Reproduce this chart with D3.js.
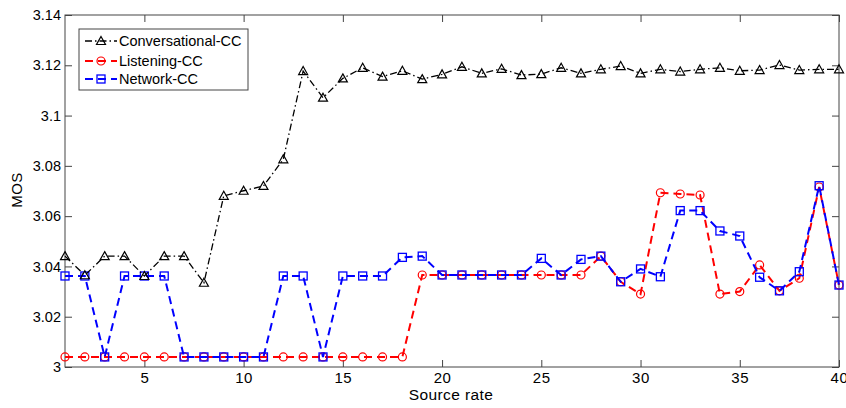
<!DOCTYPE html>
<html><head><meta charset="utf-8">
<script src="https://cdn.jsdelivr.net/npm/d3@7"></script>
<style>body{margin:0;background:#fff}svg{display:block}text{font-family:"Liberation Sans",Arial,sans-serif}</style>
</head><body><svg id="c" width="846" height="408"></svg>
<script>
const xs = d3.range(1, 41);
const conversational = [3.0441,3.0365,3.0441,3.0441,3.0362,3.0441,3.0441,3.0335,3.0681,3.0701,
  3.0720,3.0826,3.1177,3.1071,3.1148,3.1190,3.1155,3.1178,3.1145,3.1164,
  3.1194,3.1168,3.1186,3.1161,3.1165,3.1190,3.1168,3.1184,3.1197,3.1168,
  3.1184,3.1175,3.1184,3.1190,3.1178,3.1181,3.1201,3.1181,3.1184,3.1184];
const listening = [3.0040,3.0040,3.0040,3.0040,3.0040,3.0040,3.0040,3.0040,3.0040,3.0040,
  3.0040,3.0040,3.0040,3.0040,3.0040,3.0040,3.0040,3.0040,3.0366,3.0366,
  3.0366,3.0366,3.0366,3.0366,3.0366,3.0366,3.0366,3.0441,3.0339,3.0290,
  3.0693,3.0688,3.0684,3.0290,3.0300,3.0406,3.0303,3.0353,3.0716,3.0326];
const network = [3.0362,3.0362,3.0040,3.0362,3.0362,3.0362,3.0040,3.0040,3.0040,3.0040,
  3.0040,3.0362,3.0362,3.0040,3.0362,3.0362,3.0362,3.0436,3.0441,3.0366,
  3.0366,3.0366,3.0366,3.0366,3.0432,3.0366,3.0428,3.0441,3.0339,3.0390,
  3.0359,3.0622,3.0622,3.0541,3.0521,3.0357,3.0303,3.0379,3.0721,3.0326];
const xTicks = [5,10,15,20,25,30,35,40];
const yTicks = [3,3.02,3.04,3.06,3.08,3.1,3.12,3.14];
const seriesNames = ["Conversational-CC","Listening-CC","Network-CC"];

const L=65, R=839, T=15, B=367;
const svg = d3.select("#c");
const x = d3.scaleLinear().domain([1,40]).range([L,R]);
const y = d3.scaleLinear().domain([3,3.14]).range([B,T]);
const axisCol = "#444";

svg.append("rect").attr("x",L).attr("y",T).attr("width",R-L).attr("height",B-T)
  .attr("fill","none").attr("stroke",axisCol).attr("stroke-width",1);

const tl = 7;
const fmtY = d => d===3 ? "3" : d3.format(".2~f")(d);
const gx = svg.append("g").attr("transform",`translate(0,${B})`)
  .call(d3.axisBottom(x).tickValues(xTicks).tickSize(-tl).tickPadding(5).tickFormat(d3.format("d")));
const gxt = svg.append("g").attr("transform",`translate(0,${T})`)
  .call(d3.axisTop(x).tickValues(xTicks).tickSize(-tl).tickFormat(""));
const gy = svg.append("g").attr("transform",`translate(${L},0)`)
  .call(d3.axisLeft(y).tickValues(yTicks).tickSize(-tl).tickPadding(4).tickFormat(fmtY));
const gyr = svg.append("g").attr("transform",`translate(${R},0)`)
  .call(d3.axisRight(y).tickValues(yTicks).tickSize(-tl).tickFormat(""));
[gx,gxt,gy,gyr].forEach(g=>{
  g.select(".domain").remove();
  g.selectAll(".tick line").attr("stroke",axisCol);
  g.selectAll("text").attr("fill","#000").style("font-size","14.5px")
    .style("font-family","'Liberation Sans',Arial,sans-serif");
});
gx.selectAll("text").style("font-size","15px").style("letter-spacing","0.6px");

svg.append("text").attr("x",451).attr("y",400).attr("text-anchor","middle")
  .style("font-size","15.5px").style("letter-spacing","0.4px").text("Source rate");
svg.append("text").attr("transform",`translate(22,190) rotate(-90)`).attr("text-anchor","middle")
  .style("font-size","15px").style("letter-spacing","0.4px").text("MOS");

const line = d3.line().x((d,i)=>x(xs[i])).y(d=>y(d));
const specs = [
  {data:network, color:"#0000ff", dash:"8,5", w:2, marker:"square"},
  {data:listening, color:"#ff0000", dash:"8,5", w:2, marker:"circle"},
  {data:conversational, color:"#000", dash:"7,3,1.5,3", w:1.3, marker:"triangle"}
];
function drawMarker(g, type, cx, cy, color){
  if(type==="square") g.append("rect").attr("x",cx-4).attr("y",cy-4).attr("width",8).attr("height",8)
    .attr("fill","none").attr("stroke",color).attr("stroke-width",1.3);
  else if(type==="circle") g.append("circle").attr("cx",cx).attr("cy",cy).attr("r",4)
    .attr("fill","none").attr("stroke",color).attr("stroke-width",1.2);
  else g.append("path").attr("d",`M${cx},${cy-4.5}L${cx+4.5},${cy+3.5}L${cx-4.5},${cy+3.5}Z`)
    .attr("fill","none").attr("stroke",color).attr("stroke-width",1.2);
}
[specs[1],specs[0],specs[2]].forEach(s=>{
  const g = svg.append("g");
  g.append("path").datum(s.data).attr("d",line).attr("fill","none")
    .attr("stroke",s.color).attr("stroke-width",s.w).attr("stroke-dasharray",s.dash);
  s.data.forEach((v,i)=>drawMarker(g,s.marker,x(xs[i]),y(v),s.color));
});

const lg = svg.append("g");
lg.append("rect").attr("x",79).attr("y",29).attr("width",169).attr("height",61)
  .attr("fill","#fff").attr("stroke",axisCol).attr("stroke-width",1);
const legendSpecs = [specs[2],specs[1],specs[0]];
const rowsY = [41,61,79];
legendSpecs.forEach((s,i)=>{
  const ly = rowsY[i];
  lg.append("line").attr("x1",85).attr("x2",117).attr("y1",ly).attr("y2",ly)
    .attr("stroke",s.color).attr("stroke-width",s.w).attr("stroke-dasharray",s.dash);
  drawMarker(lg,s.marker,101,ly,s.color);
  lg.append("text").attr("x",119).attr("y",ly+5).style("font-size","14.5px").text(seriesNames[i]);
});
</script></body></html>
